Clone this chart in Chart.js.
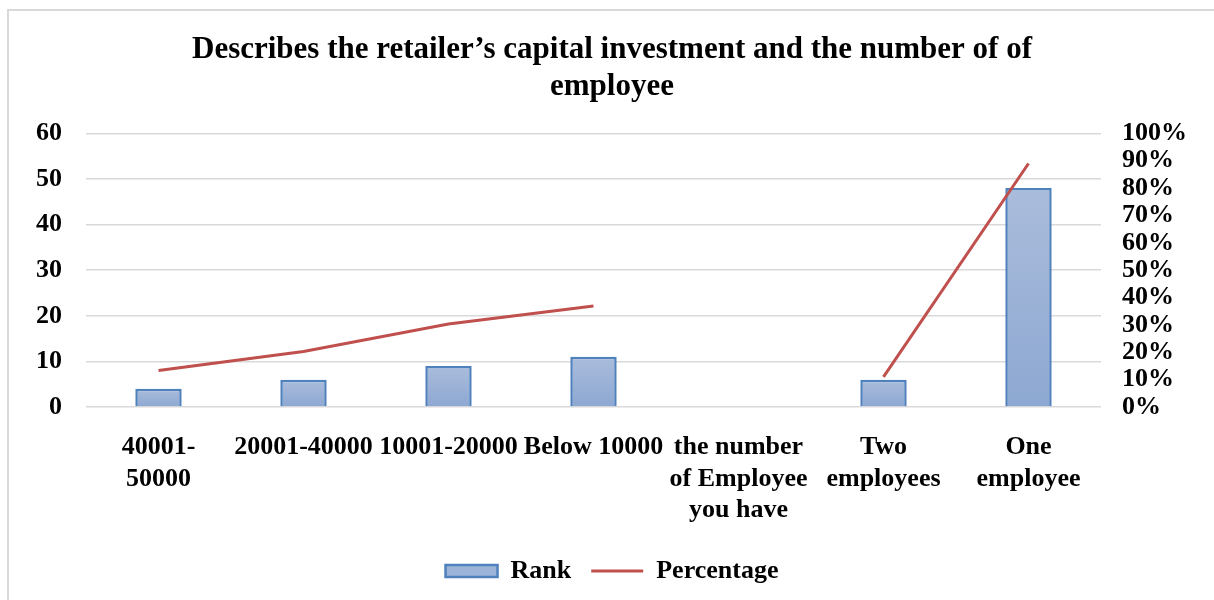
<!DOCTYPE html>
<html>
<head>
<meta charset="utf-8">
<script src="https://cdn.jsdelivr.net/npm/chart.js@4.4.0/dist/chart.umd.min.js"></script>
<style>
  html, body { margin: 0; padding: 0; background: #ffffff; overflow: hidden; }
  #frame { position: absolute; left: 7px; top: 9px; width: 1300px; height: 700px; border: 2px solid #D9D9D9; }
  #wrap { position: absolute; left: 0; top: 0; width: 1214px; height: 600px; }
</style>
</head>
<body>
<div id="frame"></div>
<div id="wrap"><canvas id="c" width="1214" height="600"></canvas></div>
<script>
const titleLines = ["Describes the retailer\u2019s capital investment and the number of of", "employee"];
const categories = [
  ["40001-", "50000"],
  "20001-40000",
  "10001-20000",
  "Below 10000",
  ["the number", "of Employee", "you have"],
  ["Two", "employees"],
  ["One", "employee"]
];
const rankValues = [4, 6, 9, 11, null, 6, 48];
const percentageValues = [13.3, 20.3, 30.3, 36.9, null, 11, 89];
const leftTicks = { min: 0, max: 60, step: 10 };
const rightTicks = { min: 0, max: 100, step: 10 };

const FONT = '"Liberation Serif", "Times New Roman", serif';

function barGradient(ctx) {
  const chart = ctx.chart;
  const y = chart.scales && chart.scales.y;
  if (!chart.chartArea || !y || ctx.raw == null) return '#9DB4D9';
  const top = y.getPixelForValue(ctx.raw);
  const bottom = y.getPixelForValue(0);
  if (!isFinite(top) || !isFinite(bottom) || top === bottom) return '#9DB4D9';
  const g = chart.ctx.createLinearGradient(0, top, 0, bottom);
  g.addColorStop(0, '#AABCDB');
  g.addColorStop(1, '#8DA8D2');
  return g;
}

new Chart(document.getElementById('c'), {
  data: {
    labels: categories,
    datasets: [
      {
        type: 'bar',
        label: 'Rank',
        data: rankValues,
        yAxisID: 'y',
        backgroundColor: barGradient,
        borderColor: '#4F81BD',
        borderWidth: 2.5,
        barPercentage: 0.32,
        categoryPercentage: 1,
        pointStyle: 'rect',
        order: 2
      },
      {
        type: 'line',
        label: 'Percentage',
        data: percentageValues,
        yAxisID: 'y1',
        borderColor: '#C0504D',
        backgroundColor: '#C0504D',
        borderWidth: 3,
        pointRadius: 0,
        pointHoverRadius: 0,
        tension: 0,
        spanGaps: false,
        pointStyle: 'line',
        order: 1
      }
    ]
  },
  options: {
    responsive: false,
    animation: false,
    layout: { padding: { left: 10, right: 0, top: 0, bottom: 6 } },
    plugins: {
      title: {
        display: true,
        text: titleLines,
        color: '#000000',
        font: { family: FONT, size: 31, weight: 'bold', lineHeight: 1.2 },
        padding: { top: 31, bottom: 28 }
      },
      legend: {
        display: true,
        position: 'bottom',
        labels: {
          color: '#000000',
          font: { family: FONT, size: 26, weight: 'bold' },
          usePointStyle: true,
          pointStyleWidth: 52,
          boxHeight: 12,
          padding: 20,
          sort: (a, b) => a.datasetIndex - b.datasetIndex,
          generateLabels(chart) {
            const items = Chart.defaults.plugins.legend.labels.generateLabels(chart);
            items.forEach(it => {
              if (it.datasetIndex === 0) {
                it.fillStyle = '#9DB4D9';
                it.strokeStyle = '#4F81BD';
                it.lineWidth = 2.5;
                it.pointStyle = 'rect';
              } else {
                it.strokeStyle = '#C0504D';
                it.fillStyle = '#C0504D';
                it.lineWidth = 3;
                it.pointStyle = 'line';
              }
            });
            return items;
          }
        }
      },
      tooltip: { enabled: false }
    },
    scales: {
      x: {
        type: 'category',
        grid: { display: false, drawTicks: false },
        border: { display: false },
        ticks: {
          color: '#000000',
          font: { family: FONT, size: 26, weight: 'bold', lineHeight: 1.2 },
          padding: 25,
          maxRotation: 0,
          minRotation: 0,
          autoSkip: false
        },
        afterFit(scale) { scale.height = 131; }
      },
      y: {
        type: 'linear',
        position: 'left',
        min: leftTicks.min,
        max: leftTicks.max,
        grid: { color: '#D9D9D9', lineWidth: 1.5, drawTicks: false },
        border: { display: false },
        ticks: {
          stepSize: leftTicks.step,
          color: '#000000',
          font: { family: FONT, size: 26, weight: 'bold', lineHeight: 1 },
          padding: 24,
          autoSkip: false
        },
        afterFit(scale) { scale.width = 76; }
      },
      y1: {
        type: 'linear',
        position: 'right',
        min: rightTicks.min,
        max: rightTicks.max,
        grid: { display: false, drawTicks: false },
        border: { display: false },
        ticks: {
          stepSize: rightTicks.step,
          color: '#000000',
          font: { family: FONT, size: 26, weight: 'bold', lineHeight: 1 },
          padding: 21,
          autoSkip: false,
          callback: v => v + '%'
        },
        afterFit(scale) { scale.width = 113; }
      }
    }
  }
});
</script>
</body>
</html>
